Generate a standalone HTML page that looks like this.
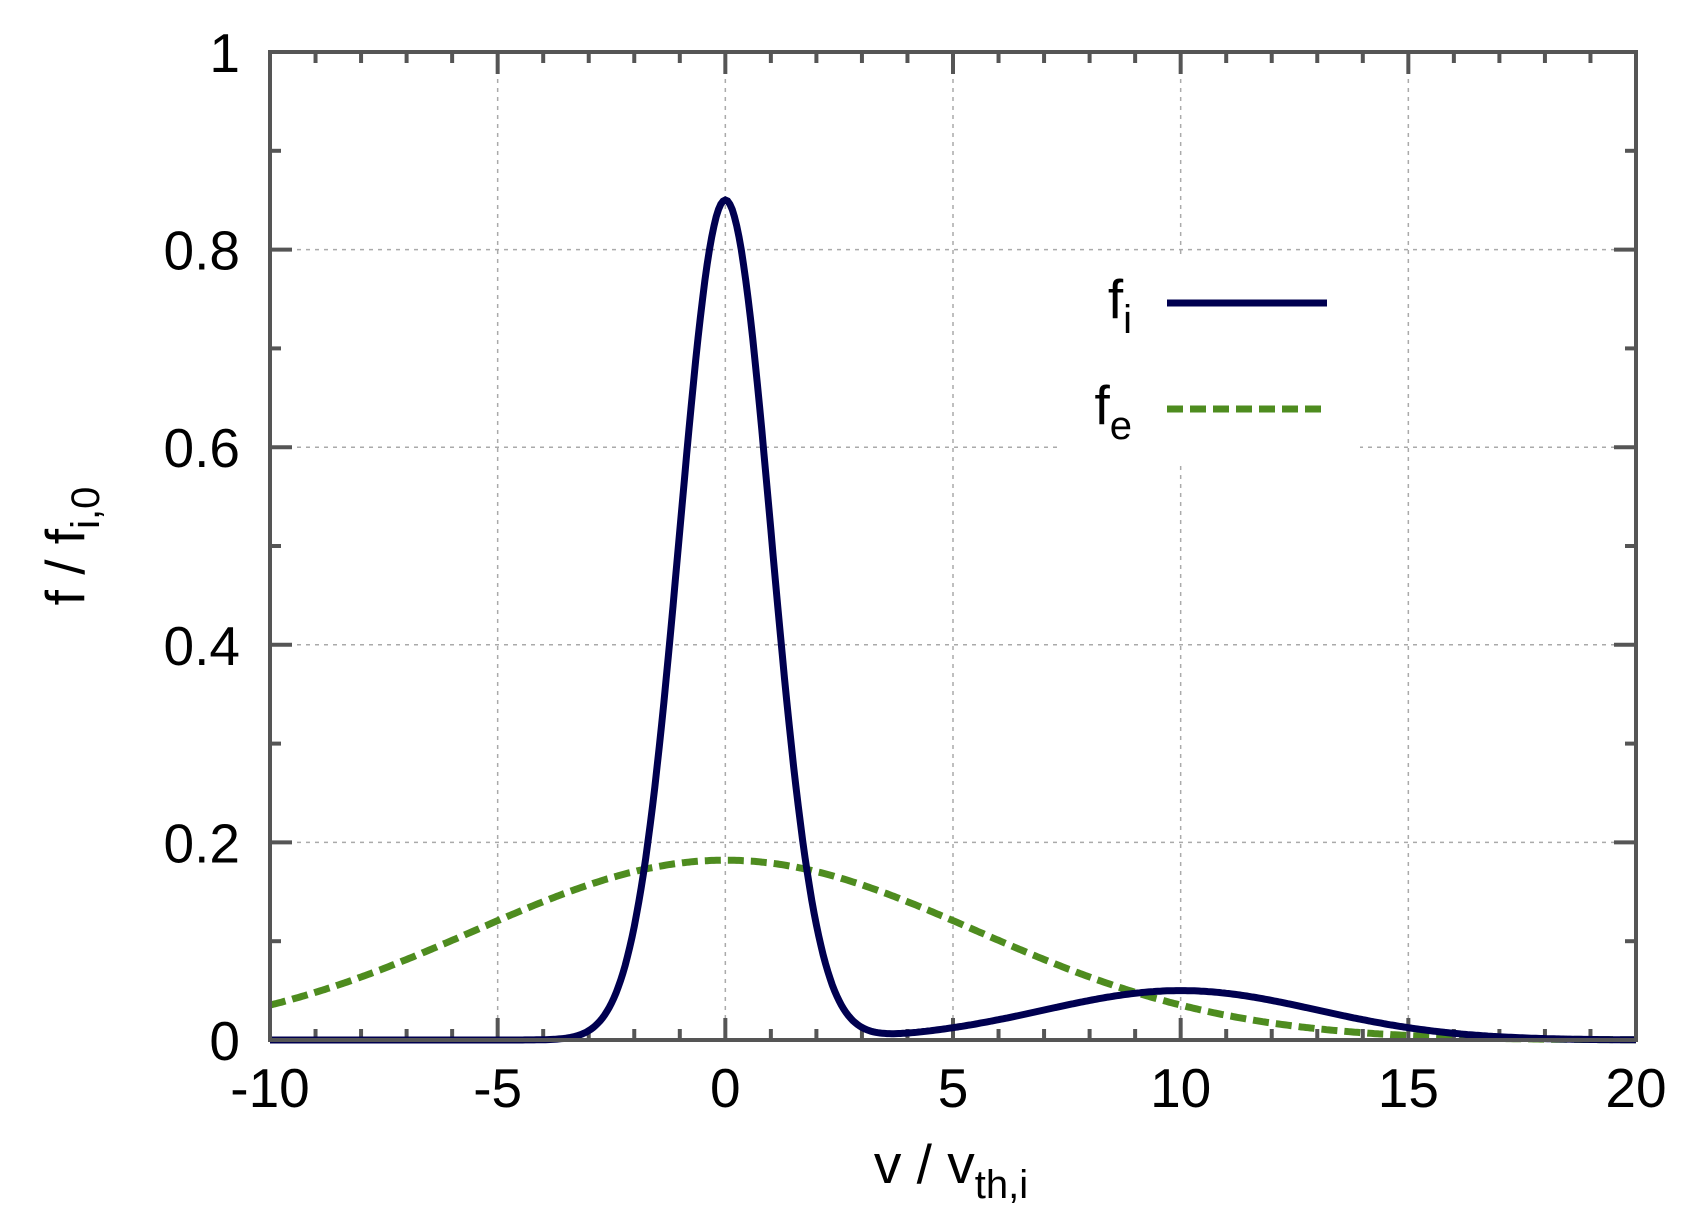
<!DOCTYPE html>
<html><head><meta charset="utf-8"><style>body{margin:0;background:#fff}svg{display:block}text{font-family:"Liberation Sans",sans-serif;fill:#000}</style></head>
<body>
<svg id="s" width="1695" height="1226" xmlns="http://www.w3.org/2000/svg">
<g id="grid" stroke="#aaa" stroke-width="1.5" stroke-dasharray="4,5"></g>
<rect x="1060" y="255" width="300" height="210" fill="#fff"/>
<g id="ticks" stroke="#555" stroke-width="4"></g>
<polyline id="fe" fill="none" stroke="#4e8c1f" stroke-width="7" stroke-dasharray="16,7"/>
<polyline id="fi" fill="none" stroke="#000050" stroke-width="7"/>
<rect x="270" y="52" width="1366" height="988" fill="none" stroke="#555" stroke-width="4"/>
<g id="labels" font-size="55"></g>
<text x="1132" y="318" font-size="55" text-anchor="end">f<tspan font-size="40" dy="15">i</tspan></text>
<line x1="1167" y1="303" x2="1327" y2="303" stroke="#000050" stroke-width="7"/>
<text x="1132" y="424" font-size="55" text-anchor="end">f<tspan font-size="40" dy="15">e</tspan></text>
<line x1="1167" y1="409" x2="1327" y2="409" stroke="#4e8c1f" stroke-width="7" stroke-dasharray="16,7"/>
<text x="951" y="1183" font-size="55" text-anchor="middle">v / v<tspan font-size="40" dy="15">th,i</tspan></text>
<text transform="translate(84,546) rotate(-90)" font-size="55" text-anchor="middle">f / f<tspan font-size="40" dy="15">i,0</tspan></text>
</svg>
<script>
var L=270,R=1636,T=52,B=1040;
function X(v){return L+(v+10)/30*(R-L)}function Y(f){return B-f*(B-T)}
var g=document.getElementById('grid'),t=document.getElementById('ticks'),lb=document.getElementById('labels'),ns='http://www.w3.org/2000/svg';
function el(p,n,a,txt){var e=document.createElementNS(ns,n);for(var k in a)e.setAttribute(k,a[k]);if(txt!=null)e.textContent=txt;p.appendChild(e);}
for(var v=-10;v<=20;v++){var x=X(v),maj=v%5==0,len=maj?22:11;
 if(maj&&v>-10&&v<20)el(g,'line',{x1:x,y1:T,x2:x,y2:B});
 el(t,'line',{x1:x,y1:B,x2:x,y2:B-len});el(t,'line',{x1:x,y1:T,x2:x,y2:T+len});
 if(maj)el(lb,'text',{x:x,y:1107,'text-anchor':'middle'},String(v));}
for(var i=0;i<=10;i++){var f=i/10,y=Y(f),maj=i%2==0,len=maj?22:11;
 if(maj&&i>0&&i<10)el(g,'line',{x1:L,y1:y,x2:R,y2:y});
 el(t,'line',{x1:L,y1:y,x2:L+len,y2:y});el(t,'line',{x1:R,y1:y,x2:R-len,y2:y});
 if(maj)el(lb,'text',{x:240,y:y+20,'text-anchor':'end'},i==0?'0':i==10?'1':String(f));}
var pi=[],pe=[];
for(var v=-10;v<=20.001;v+=0.05){
 var fi=0.85*Math.exp(-v*v/2)+0.05*Math.exp(-(v-10)*(v-10)/18);
 var fe=0.182*Math.exp(-v*v/61);
 pi.push(X(v).toFixed(1)+','+Y(fi).toFixed(1));pe.push(X(v).toFixed(1)+','+Y(fe).toFixed(1));}
document.getElementById('fi').setAttribute('points',pi.join(' '));
document.getElementById('fe').setAttribute('points',pe.join(' '));
</script>
</body></html>
